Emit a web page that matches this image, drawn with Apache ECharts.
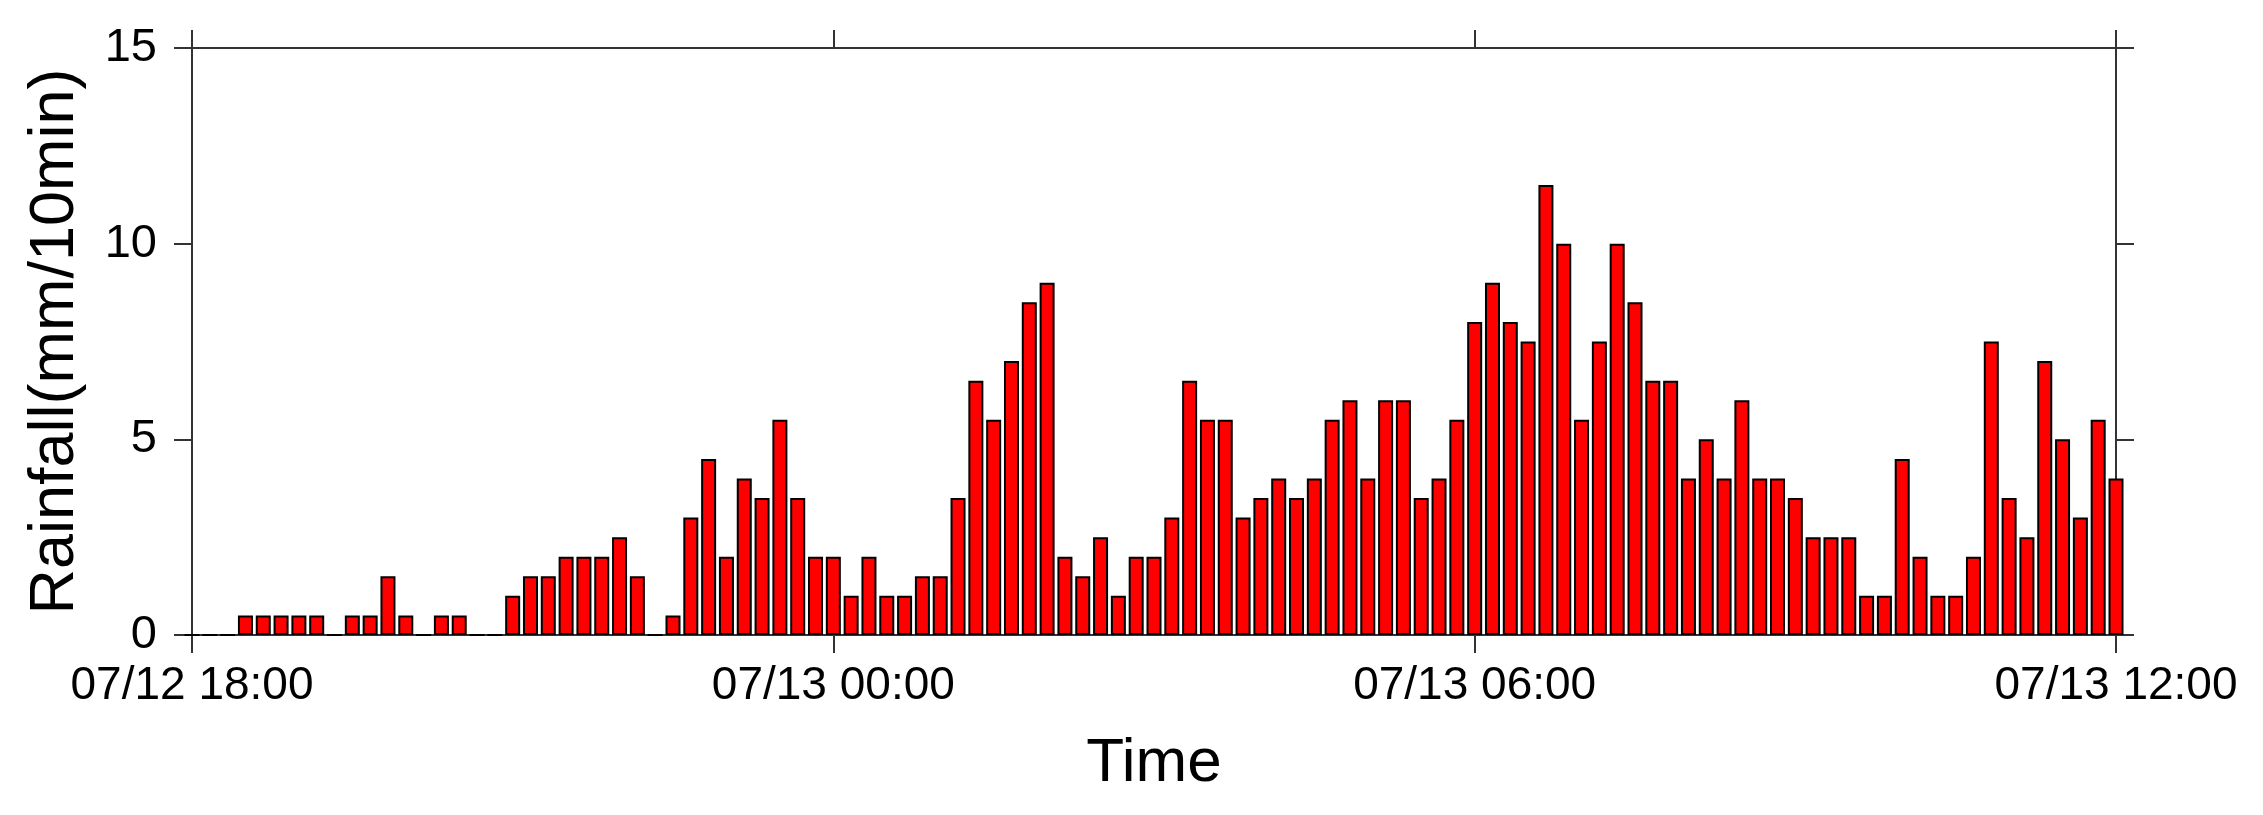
<!DOCTYPE html>
<html>
<head>
<meta charset="utf-8">
<script src="https://cdn.jsdelivr.net/npm/echarts@6/dist/echarts.min.js"></script>
<style>
html,body{margin:0;padding:0;background:#fff;}
#chart{width:2263px;height:815px;}
</style>
</head>
<body>
<div id="chart"></div>
<script>
// Time axis: minutes since 07/12 18:00, one bar every 10 minutes
const tickLabels = ['07/12 18:00', '07/13 00:00', '07/13 06:00', '07/13 12:00'];
const tickStepMinutes = 360;
const barStepMinutes = 10;
const yTicks = [0, 5, 10, 15];

// Rainfall (mm/10min) from 07/12 18:00 to 07/13 12:00
const rainfall = [
  0, 0, 0, 0.5, 0.5, 0.5, 0.5, 0.5, 0, 0.5,
  0.5, 1.5, 0.5, 0, 0.5, 0.5, 0, 0, 1, 1.5,
  1.5, 2, 2, 2, 2.5, 1.5, 0, 0.5, 3, 4.5,
  2, 4, 3.5, 5.5, 3.5, 2, 2, 1, 2, 1,
  1, 1.5, 1.5, 3.5, 6.5, 5.5, 7, 8.5, 9, 2,
  1.5, 2.5, 1, 2, 2, 3, 6.5, 5.5, 5.5, 3,
  3.5, 4, 3.5, 4, 5.5, 6, 4, 6, 6, 3.5,
  4, 5.5, 8, 9, 8, 7.5, 11.5, 10, 5.5, 7.5,
  10, 8.5, 6.5, 6.5, 4, 5, 4, 6, 4, 4,
  3.5, 2.5, 2.5, 2.5, 1, 1, 4.5, 2, 1, 1,
  2, 7.5, 3.5, 2.5, 7, 5, 3, 5.5, 4
];

const seriesData = rainfall.map((v, i) => [i * barStepMinutes, v]);
const xMax = (tickLabels.length - 1) * tickStepMinutes;

const FONT = 'Liberation Sans, Arial, sans-serif';
const LINE = { color: '#333', width: 2 };

const chart = echarts.init(document.getElementById('chart'), null, { renderer: 'canvas' });
chart.setOption({
  backgroundColor: '#fff',
  animation: false,
  grid: { left: 192, right: 147, top: 48, bottom: 180, containLabel: false },
  xAxis: [
    {
      type: 'value', position: 'bottom', min: 0, max: xMax, interval: tickStepMinutes,
      axisLine: { show: true, onZero: false, lineStyle: LINE },
      axisTick: { show: true, inside: false, length: 18, lineStyle: LINE },
      splitLine: { show: false },
      axisLabel: {
        show: true, margin: 28, color: '#000', fontSize: 46, fontFamily: FONT,
        formatter: v => tickLabels[Math.round(v / tickStepMinutes)] || ''
      },
      name: 'Time', nameLocation: 'middle', nameGap: 98,
      nameTextStyle: { color: '#000', fontSize: 62, fontFamily: FONT }
    },
    {
      type: 'value', position: 'top', min: 0, max: xMax, interval: tickStepMinutes,
      axisLine: { show: true, onZero: false, lineStyle: LINE },
      axisTick: { show: true, inside: false, length: 18, lineStyle: LINE },
      splitLine: { show: false },
      axisLabel: { show: false }
    }
  ],
  yAxis: [
    {
      type: 'value', position: 'left', min: yTicks[0], max: yTicks[yTicks.length - 1], interval: 5,
      axisLine: { show: true, onZero: false, lineStyle: LINE },
      axisTick: { show: true, inside: false, length: 18, lineStyle: LINE },
      splitLine: { show: false },
      axisLabel: { show: true, margin: 35, color: '#000', fontSize: 47, fontFamily: FONT },
      name: 'Rainfall(mm/10min)', nameLocation: 'middle', nameGap: 105, nameRotate: 90,
      nameTextStyle: { color: '#000', fontSize: 63, fontFamily: FONT }
    },
    {
      type: 'value', position: 'right', min: yTicks[0], max: yTicks[yTicks.length - 1], interval: 5,
      axisLine: { show: true, onZero: false, lineStyle: LINE },
      axisTick: { show: true, inside: false, length: 18, lineStyle: LINE },
      splitLine: { show: false },
      axisLabel: { show: false }
    }
  ],
  series: [
    {
      type: 'bar',
      xAxisIndex: 0,
      yAxisIndex: 0,
      data: seriesData,
      barWidth: 15,
      clip: true,
      itemStyle: { color: '#ff0000', borderColor: '#000', borderWidth: 2 }
    }
  ]
});
</script>
</body>
</html>
